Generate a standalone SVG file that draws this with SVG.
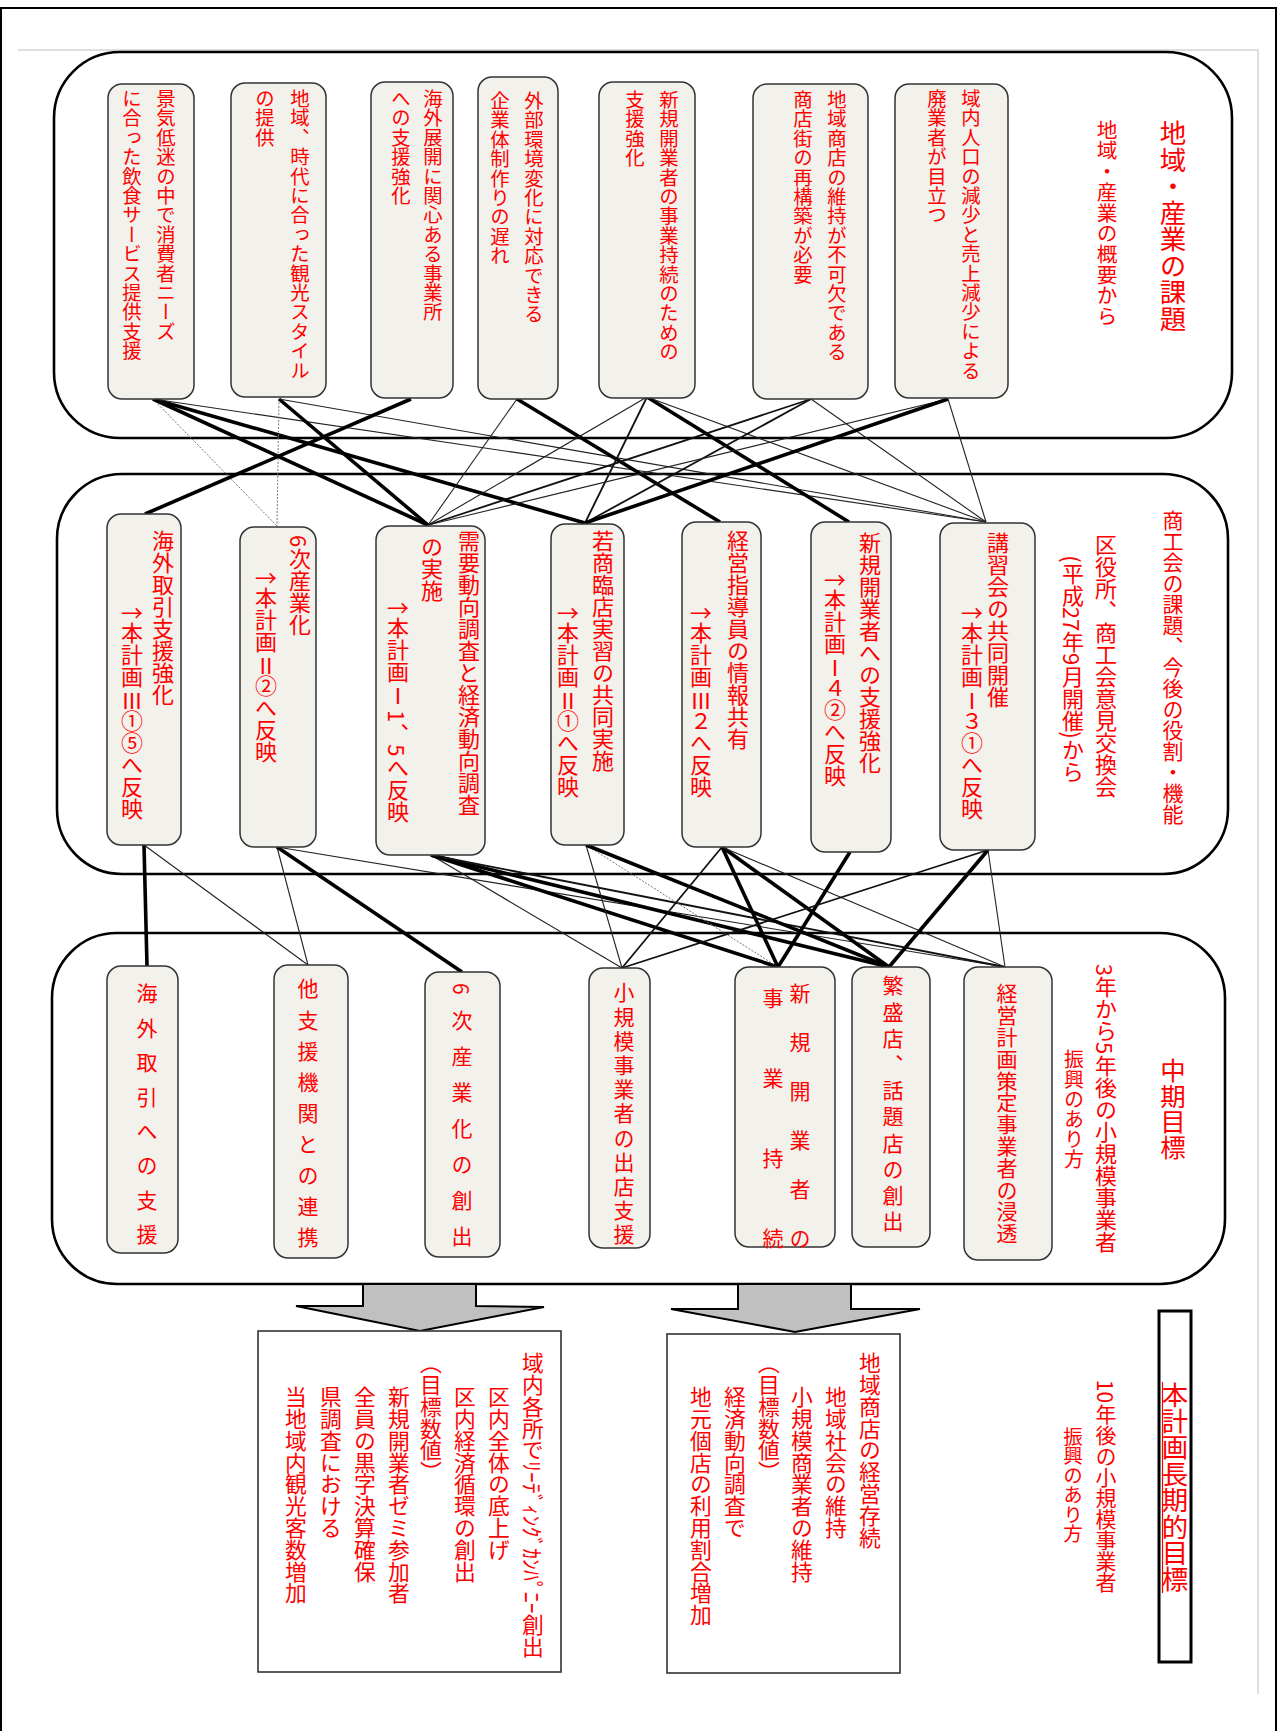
<svg xmlns="http://www.w3.org/2000/svg" width="1278" height="1731" viewBox="0 0 1278 1731">
<style>
.t{font-family:"Noto Sans CJK JP","Noto Sans CJK SC",sans-serif;fill:#ff0000;writing-mode:vertical-rl;}
.h{font-family:"Noto Sans CJK JP","Noto Sans CJK SC",sans-serif;fill:#ff0000;text-anchor:middle;dominant-baseline:central;font-size:22px;}
.c{text-anchor:middle;}
.grp{fill:#fff;stroke:#000;stroke-width:2.6;}
.nd{fill:#f2f1eb;stroke:#333;stroke-width:1.5;}
.k{stroke:#000;stroke-width:3.6;}
.m{stroke:#111;stroke-width:1.8;}
.n{stroke:#222;stroke-width:1.1;}
.d{stroke:#777;stroke-width:1;stroke-dasharray:2 1.5;}
.box{fill:#fff;stroke:#333;stroke-width:1.6;}
.arr{fill:#c0c0c0;stroke:#000;stroke-width:2;}
</style>
<rect width="1278" height="1731" fill="#fff"/>
<path d="M1,1731 V8 H1276 V1731" fill="none" stroke="#000" stroke-width="2"/>
<path d="M18,50 H1258 V1694" fill="none" stroke="#d4d4d4" stroke-width="1.5"/>

<g id="groups">
<rect id="grp-top" class="grp" x="54" y="52" width="1178" height="386" rx="66" ry="66"/>
<rect id="grp-mid" class="grp" x="57" y="474" width="1171" height="400" rx="65" ry="65"/>
<rect id="grp-bot" class="grp" x="52" y="933" width="1173" height="351" rx="65" ry="65"/>
</g>

<g id="connectors">
<line class="d" x1="153" y1="399" x2="277" y2="526"/>
<line class="k" x1="153" y1="399" x2="428" y2="525"/>
<line class="k" x1="153" y1="399" x2="585" y2="523"/>
<line class="n" x1="153" y1="399" x2="986" y2="522"/>
<line class="d" x1="279" y1="399" x2="277" y2="526"/>
<line class="k" x1="279" y1="399" x2="428" y2="525"/>
<line class="n" x1="279" y1="399" x2="986" y2="522"/>
<line class="k" x1="411" y1="399" x2="145" y2="514"/>
<line class="n" x1="517" y1="399" x2="428" y2="525"/>
<line class="k" x1="517" y1="399" x2="720" y2="522"/>
<line class="n" x1="647" y1="397" x2="428" y2="525"/>
<line class="m" x1="647" y1="397" x2="585" y2="523"/>
<line class="k" x1="647" y1="397" x2="849" y2="522"/>
<line class="n" x1="647" y1="397" x2="986" y2="522"/>
<line class="m" x1="811" y1="399" x2="428" y2="525"/>
<line class="m" x1="811" y1="399" x2="585" y2="523"/>
<line class="n" x1="811" y1="399" x2="986" y2="522"/>
<line class="n" x1="948" y1="399" x2="428" y2="525"/>
<line class="k" x1="948" y1="399" x2="585" y2="523"/>
<line class="n" x1="948" y1="399" x2="986" y2="522"/>

<line class="k" x1="144" y1="845" x2="147" y2="966"/>
<line class="n" x1="144" y1="845" x2="308" y2="965"/>
<line class="n" x1="277" y1="847" x2="308" y2="965"/>
<line class="k" x1="277" y1="847" x2="462" y2="972"/>
<line class="n" x1="277" y1="847" x2="1005" y2="967"/>
<line class="n" x1="431" y1="855" x2="622" y2="968"/>
<line class="k" x1="431" y1="855" x2="778" y2="967"/>
<line class="k" x1="431" y1="855" x2="889" y2="967"/>
<line class="m" x1="431" y1="855" x2="1005" y2="967"/>
<line class="n" x1="586" y1="845" x2="622" y2="968"/>
<line class="d" x1="586" y1="845" x2="778" y2="967"/>
<line class="k" x1="586" y1="845" x2="889" y2="967"/>
<line class="m" x1="722" y1="847" x2="622" y2="968"/>
<line class="k" x1="722" y1="847" x2="778" y2="967"/>
<line class="k" x1="722" y1="847" x2="889" y2="967"/>
<line class="n" x1="722" y1="847" x2="1005" y2="967"/>
<line class="k" x1="850" y1="852" x2="778" y2="967"/>
<line class="m" x1="988" y1="850" x2="622" y2="968"/>
<line class="k" x1="988" y1="850" x2="889" y2="967"/>
<line class="n" x1="988" y1="850" x2="1005" y2="967"/>
</g>

<g id="title-top">
<text class="t c" x="1173" y="226" font-size="26.5">地域・産業の課題</text>
<text class="t c" x="1107" y="223" font-size="20.7">地域・産業の概要から</text>
</g>

<g id="T1"><rect class="nd" x="108" y="84" width="86" height="315" rx="14"/>
<text class="t" x="166" y="89" font-size="19.4">景気低迷の中で消費者ニーズ</text>
<text class="t" x="132" y="89" font-size="19.4">に合った飲食サービス提供支援</text></g>
<g id="T2"><rect class="nd" x="231" y="83" width="95" height="314" rx="14"/>
<text class="t" x="300" y="89" font-size="19.4">地域、時代に合った観光スタイル</text>
<text class="t" x="265" y="89" font-size="19.4">の提供</text></g>
<g id="T3"><rect class="nd" x="371" y="82" width="82" height="316" rx="14"/>
<text class="t" x="433" y="89" font-size="19.4">海外展開に関心ある事業所</text>
<text class="t" x="401" y="89" font-size="19.4">への支援強化</text></g>
<g id="T4"><rect class="nd" x="478" y="77" width="80" height="322" rx="14"/>
<text class="t" x="534" y="91" font-size="19.4">外部環境変化に対応できる</text>
<text class="t" x="500" y="91" font-size="19.4">企業体制作りの遅れ</text></g>
<g id="T5"><rect class="nd" x="599" y="82" width="96" height="316" rx="14"/>
<text class="t" x="669" y="90" font-size="19.4">新規開業者の事業持続のための</text>
<text class="t" x="635" y="90" font-size="19.4">支援強化</text></g>
<g id="T6"><rect class="nd" x="753" y="84" width="115" height="315" rx="14"/>
<text class="t" x="837" y="90" font-size="19.4">地域商店の維持が不可欠である</text>
<text class="t" x="803" y="90" font-size="19.4">商店街の再構築が必要</text></g>
<g id="T7"><rect class="nd" x="895" y="84" width="113" height="314" rx="14"/>
<text class="t" x="971" y="89" font-size="19.4">域内人口の減少と売上減少による</text>
<text class="t" x="937" y="89" font-size="19.4">廃業者が目立つ</text></g>

<g id="title-mid">
<text class="t c" x="1173" y="667" font-size="21">商工会の課題、今後の役割・機能</text>
<text class="t c" x="1106" y="666" font-size="22">区役所、商工会意見交換会</text>
<text class="t c" x="1073" y="669" font-size="22">(平成27年9月開催)から</text>
</g>

<g id="M1"><rect class="nd" x="107" y="514" width="74" height="331" rx="14"/>
<text class="t" x="163" y="530" font-size="22">海外取引支援強化</text>
<text class="h" x="132" y="611">→</text>
<text class="t" x="132" y="622" font-size="22">本計画</text>
<text class="h" x="132" y="699">Ⅲ</text>
<text class="t" x="132" y="710" font-size="22">①⑤へ反映</text></g>
<g id="M2"><rect class="nd" x="240" y="527" width="76" height="320" rx="14"/>
<text class="t" x="300" y="535" font-size="22">6次産業化</text>
<text class="h" x="266" y="576">→</text>
<text class="t" x="266" y="587" font-size="22">本計画</text>
<text class="h" x="266" y="664">Ⅱ</text>
<text class="t" x="266" y="675" font-size="22">②へ反映</text></g>
<g id="M3"><rect class="nd" x="376" y="526" width="109" height="329" rx="14"/>
<text class="t" x="469" y="530" font-size="22">需要動向調査と経済動向調査</text>
<text class="t" x="432" y="536" font-size="22">の実施</text>
<text class="h" x="398" y="606">→</text>
<text class="t" x="398" y="617" font-size="22">本計画</text>
<text class="h" x="398" y="694">Ⅰ</text>
<text class="t" x="398" y="710" font-size="22">1、5へ反映</text></g>
<g id="M4"><rect class="nd" x="551" y="524" width="73" height="321" rx="14"/>
<text class="t" x="603" y="530" font-size="22">若商臨店実習の共同実施</text>
<text class="h" x="568" y="611">→</text>
<text class="t" x="568" y="622" font-size="22">本計画</text>
<text class="h" x="568" y="699">Ⅱ</text>
<text class="t" x="568" y="710" font-size="22">①へ反映</text></g>
<g id="M5"><rect class="nd" x="682" y="522" width="79" height="325" rx="14"/>
<text class="t" x="738" y="530" font-size="22">経営指導員の情報共有</text>
<text class="h" x="701" y="611">→</text>
<text class="t" x="701" y="622" font-size="22">本計画</text>
<text class="h" x="701" y="699">Ⅲ</text>
<text class="t" x="701" y="710" font-size="22">２へ反映</text></g>
<g id="M6"><rect class="nd" x="811" y="522" width="80" height="330" rx="14"/>
<text class="t" x="870" y="532" font-size="22">新規開業者への支援強化</text>
<text class="h" x="835" y="578">→</text>
<text class="t" x="835" y="589" font-size="22">本計画</text>
<text class="h" x="835" y="666">Ⅰ</text>
<text class="t" x="835" y="677" font-size="22">４②へ反映</text></g>
<g id="M7"><rect class="nd" x="940" y="523" width="95" height="327" rx="14"/>
<text class="t" x="998" y="532" font-size="22">講習会の共同開催</text>
<text class="h" x="972" y="611">→</text>
<text class="t" x="972" y="622" font-size="22">本計画</text>
<text class="h" x="972" y="699">Ⅰ</text>
<text class="t" x="972" y="710" font-size="22">３①へ反映</text></g>

<g id="title-bot">
<text class="t c" x="1173" y="1109" font-size="25.5">中期目標</text>
<text class="t c" x="1106" y="1108" font-size="22">3年から5年後の小規模事業者</text>
<text class="t c" x="1074" y="1109" font-size="20">振興のあり方</text>
</g>

<g id="B1"><rect class="nd" x="107" y="966" width="71" height="287" rx="14"/>
<text class="t" x="147" y="983" font-size="21" letter-spacing="13.4">海外取引への支援</text></g>
<g id="B2"><rect class="nd" x="274" y="965" width="74" height="293" rx="14"/>
<text class="t" x="308" y="978" font-size="21" letter-spacing="10.1">他支援機関との連携</text></g>
<g id="B3"><rect class="nd" x="425" y="972" width="75" height="285" rx="14"/>
<text class="t" x="462" y="983" font-size="21" letter-spacing="15">6次産業化の創出</text></g>
<g id="B4"><rect class="nd" x="589" y="968" width="61" height="280" rx="14"/>
<text class="t" x="624" y="982" font-size="21" letter-spacing="3.2">小規模事業者の出店支援</text></g>
<g id="B5"><rect class="nd" x="735" y="967" width="100" height="280" rx="14"/>
<text class="t" x="800" y="983" font-size="21" letter-spacing="28">新規開業者の</text>
<text class="t" x="773" y="988" font-size="21" letter-spacing="59">事業持続</text></g>
<g id="B6"><rect class="nd" x="852" y="967" width="78" height="280" rx="14"/>
<text class="t" x="893" y="975" font-size="21" letter-spacing="5.2">繁盛店、話題店の創出</text></g>
<g id="B7"><rect class="nd" x="964" y="967" width="88" height="293" rx="14"/>
<text class="t" x="1007" y="983" font-size="21" letter-spacing="0.8">経営計画策定事業者の浸透</text></g>

<g id="arrows">
<polygon class="arr" points="363,1284 476,1284 476,1306 544,1307 420,1331 296,1306 363,1306"/>
<polygon class="arr" points="738,1284 851,1284 851,1309 920,1309 795,1332 671,1309 738,1309"/>
</g>

<g id="goal-long">
<rect x="1159" y="1311" width="32" height="351" fill="#fff" stroke="#000" stroke-width="3"/>
<line x1="1162.5" y1="1382" x2="1162.5" y2="1593" stroke="#ff0000" stroke-width="1.2"/>
<text class="t c" x="1175" y="1487" font-size="26.4">本計画長期的目標</text>
<text class="t c" x="1106" y="1486" font-size="21">10年後の小規模事業者</text>
<text class="t c" x="1073" y="1485" font-size="19.5">振興のあり方</text>
</g>

<g id="box-right"><rect class="box" x="667" y="1334" width="233" height="339"/>
<text class="t" x="870" y="1352" font-size="21.8">地域商店の経営存続</text>
<text class="t" x="836" y="1386" font-size="21.8">地域社会の維持</text>
<text class="t" x="802" y="1386" font-size="21.8">小規模商業者の維持</text>
<text class="t" x="769" y="1352" font-size="21.8">（目標数値）</text>
<text class="t" x="735" y="1386" font-size="21.8">経済動向調査で</text>
<text class="t" x="701" y="1386" font-size="21.8">地元個店の利用割合増加</text></g>

<g id="box-left"><rect class="box" x="258" y="1331" width="303" height="341"/>
<text class="t" x="533" y="1352" font-size="21.8">域内各所でﾘｰﾃﾞｨﾝｸﾞｶﾝﾊﾟﾆｰ創出</text>
<text class="t" x="499" y="1386" font-size="21.8">区内全体の底上げ</text>
<text class="t" x="465" y="1386" font-size="21.8">区内経済循環の創出</text>
<text class="t" x="431" y="1352" font-size="21.8">（目標数値）</text>
<text class="t" x="399" y="1386" font-size="21.8">新規開業者ゼミ参加者</text>
<text class="t" x="365" y="1386" font-size="21.8">全員の黒字決算確保</text>
<text class="t" x="331" y="1386" font-size="21.8">県調査における</text>
<text class="t" x="296" y="1386" font-size="21.8">当地域内観光客数増加</text></g>
</svg>
